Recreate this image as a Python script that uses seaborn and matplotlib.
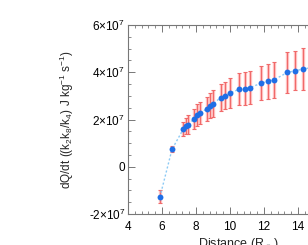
"""
Heating rate vs heliocentric distance - recreated with seaborn/matplotlib.
"""

import numpy as np
import pandas as pd
import matplotlib
matplotlib.use("Agg")
import matplotlib.pyplot as plt
import matplotlib.ticker as mticker
import seaborn as sns

# values (distance in R_sun, dQ/dt in J/kg/s)
distance = [5.88, 6.59, 7.25, 7.39, 7.55, 7.88, 8.08, 8.24, 8.63, 8.82, 9.02,
            9.45, 9.71, 9.98, 10.53, 10.86, 11.18, 11.84, 12.24, 12.59,
            13.37, 13.82, 14.28, 14.80]
dqdt = [-1.27e7, 0.74e7, 1.59e7, 1.72e7, 1.78e7, 2.03e7, 2.19e7, 2.27e7,
        2.45e7, 2.58e7, 2.67e7, 2.93e7, 3.01e7, 3.11e7, 3.28e7, 3.31e7,
        3.35e7, 3.54e7, 3.61e7, 3.68e7, 3.99e7, 4.06e7, 4.13e7, 4.20e7]
dqdt_err = [0.27e7, 0.12e7, 0.30e7, 0.35e7, 0.40e7, 0.42e7, 0.45e7, 0.48e7,
            0.51e7, 0.53e7, 0.56e7, 0.59e7, 0.58e7, 0.64e7, 0.68e7, 0.71e7,
            0.71e7, 0.73e7, 0.76e7, 0.77e7, 0.87e7, 0.83e7, 0.90e7, 0.92e7]

y_ticks = [-2e7, 0, 2e7, 4e7, 6e7]
y_ticklabels = [r"-2$\times$10$^7$", "0", r"2$\times$10$^7$",
                r"4$\times$10$^7$", r"6$\times$10$^7$"]
x_ticks = [4, 6, 8, 10, 12, 14, 16]

df = pd.DataFrame({"distance": distance, "dqdt": dqdt, "err": dqdt_err})

sns.set_style("ticks")
plt.rcParams["font.family"] = ["Liberation Sans", "DejaVu Sans"]
plt.rcParams["mathtext.fontset"] = "custom"
plt.rcParams["mathtext.rm"] = "Liberation Sans"
plt.rcParams["mathtext.it"] = "Liberation Sans:italic"

fig = plt.figure(figsize=(3.08, 2.45), dpi=100)
# axes run past the right edge of the canvas, like the cropped original
ax = fig.add_axes([128 / 308, 31 / 245, 13 * 17 / 308, 189 / 245])

# soft band + thin bar for the uncertainties
ax.errorbar(df["distance"], df["dqdt"], yerr=df["err"], fmt="none",
            ecolor="#ffc4c4", elinewidth=2.4, capsize=0, zorder=1)
ax.errorbar(df["distance"], df["dqdt"], yerr=df["err"], fmt="none",
            ecolor="#f06a6a", elinewidth=0.8, capsize=1.6, capthick=0.8, zorder=2)

sns.lineplot(data=df, x="distance", y="dqdt", ax=ax, color="#8ccaf5",
             linestyle=(0, (1.5, 1.5)), linewidth=1.0, zorder=3)
sns.scatterplot(data=df, x="distance", y="dqdt", ax=ax, color="#1f6fe6",
                s=18, linewidth=0, zorder=4)

ax.set_xlim(4, 17)
ax.set_ylim(-2e7, 6e7)
ax.set_xticks(x_ticks)
ax.set_xticklabels([str(t) for t in x_ticks])
ax.set_yticks(y_ticks)
ax.set_yticklabels(y_ticklabels)
ax.xaxis.set_minor_locator(mticker.MultipleLocator(0.4))
ax.yaxis.set_minor_locator(mticker.MultipleLocator(0.5e7))

for side in ["top", "right", "left", "bottom"]:
    ax.spines[side].set_visible(True)
    ax.spines[side].set_color("#777777")
    ax.spines[side].set_linewidth(0.8)

ax.tick_params(which="both", direction="in", top=True, right=True,
               colors="#777777", labelcolor="black", labelsize=8.5)
ax.tick_params(which="major", length=5, width=0.7)
ax.tick_params(which="minor", length=2.5, width=0.6)
ax.tick_params(axis="x", pad=5)
ax.tick_params(axis="y", pad=2)

ax.set_xlabel(r"Distance (R$_\odot$)", fontsize=9, labelpad=2)
ax.set_ylabel(r"dQ/dt ((k$_2$k$_8$/k$_4$) J kg$^{-1}$ s$^{-1}$)", fontsize=8.5,
              labelpad=9)

fig.savefig("out.png", dpi=100)
